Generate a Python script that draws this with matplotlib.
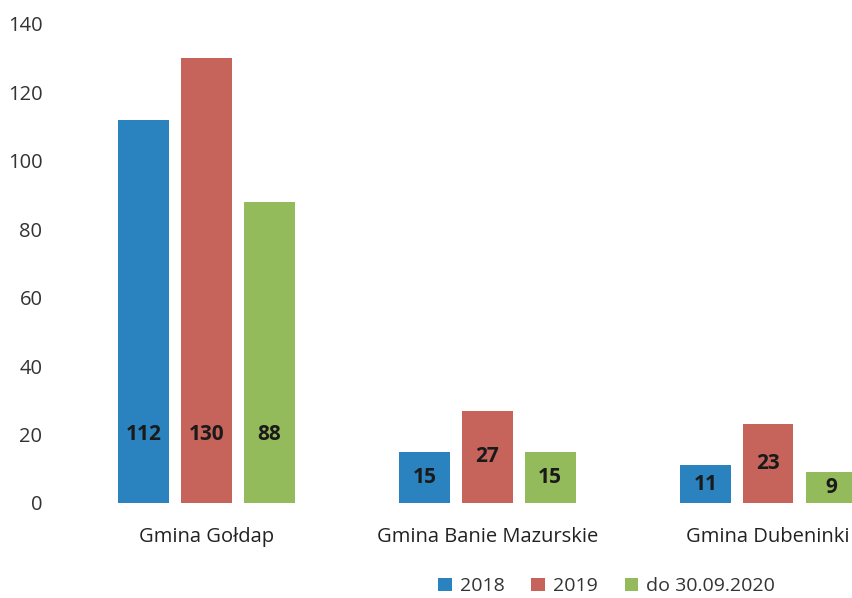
import matplotlib.pyplot as plt
import numpy as np

plt.rcParams['font.family'] = ['Open Sans', 'DejaVu Sans']

# dane
gminy = ['Gmina Gołdap', 'Gmina Banie Mazurskie', 'Gmina Dubeninki']
serie = ['2018', '2019', 'do 30.09.2020']
v2018 = [112, 15, 11]
v2019 = [130, 27, 23]
v2020 = [88, 15, 9]
kolory = ['#2A83BE', '#C6645C', '#93BA5B']

fig = plt.figure(figsize=(8.52, 5.98), dpi=100)
ax = fig.add_axes([0.0775, 0.159, 0.989, 0.801])

x = np.arange(len(gminy))
w = 0.18
step = 0.224
for i, (vals, nazwa, kol) in enumerate(zip([v2018, v2019, v2020], serie, kolory)):
    pos = x + (i - 1) * step
    bars = ax.bar(pos, vals, width=w, color=kol, label=nazwa)
    for b, v in zip(bars, vals):
        ax.text(b.get_x() + b.get_width() / 2, min(v / 2, 20), str(v),
                ha='center', va='center', fontsize=15, fontweight='bold', color='#1a1a1a')

ax.set_xlim(-0.5, 2.5)
ax.set_ylim(0, 140)
ax.set_yticks(range(0, 141, 20))
ax.set_xticks(x)
ax.set_xticklabels(gminy, fontsize=14.5, color='#222222')
ax.tick_params(axis='y', labelsize=14.5, colors='#333333', length=0, pad=17)
ax.tick_params(axis='x', length=0, pad=17)
for s in ax.spines.values():
    s.set_visible(False)

fig.legend(loc='lower center', bbox_to_anchor=(0.712, -0.025), ncol=3, frameon=False,
           fontsize=14, handlelength=0.7, handleheight=0.7, handletextpad=0.4,
           columnspacing=1.4, labelcolor='#333333')

plt.savefig('out.png', dpi=100)
